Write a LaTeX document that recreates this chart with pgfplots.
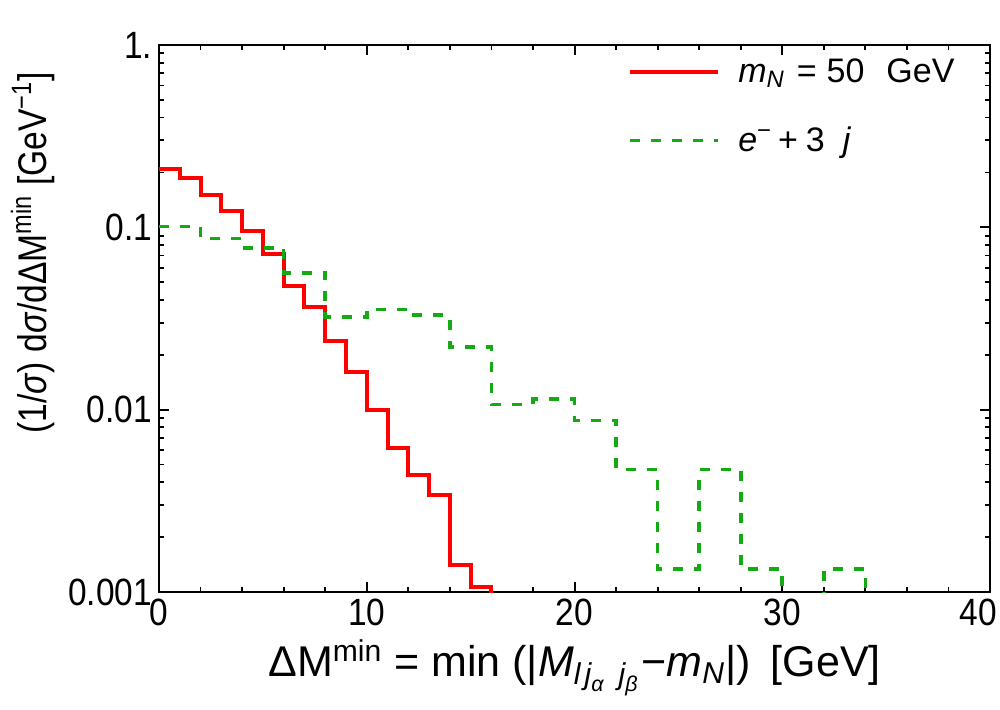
\documentclass[border=0pt]{standalone}
\usepackage{amsmath}
\usepackage{fontspec}
\setmainfont{Liberation Sans}
\newfontfamily\tickfont[FakeStretch=0.88]{Liberation Sans}
\newfontfamily\ylabfont[FakeStretch=0.84]{Liberation Sans}
\usepackage{pgfplots}
\pgfplotsset{compat=1.18}
\definecolor{mgreen}{RGB}{20,170,20}
\begin{document}
\begin{tikzpicture}
\begin{axis}[
  at={(0,0)}, anchor=south west,
  scale only axis, width=415.5pt, height=273.5pt,
  xmin=0, xmax=40, ymin=0.001, ymax=1, ymode=log,
  xtick={0,10,20,30,40}, minor x tick num=4,
  xticklabels={0,10,20,30,{\hspace*{-12pt}40}},
  ytick={0.001,0.01,0.1,1}, yticklabels={0.001,0.01,0.1,1.},
  tick pos=both, tick align=inside,
  major tick length=5pt, minor tick length=2.5pt,
  every tick/.style={black, line width=1pt},
  every minor tick/.style={black, line width=0.9pt},
  axis line style={line width=1.2pt},
  /pgf/number format/assume math mode=true,
  ticklabel style={font=\tickfont\fontsize{19}{21}\selectfont},
  xlabel style={font=\fontsize{21.5}{24}\selectfont},
  ylabel style={font=\ylabfont\fontsize{20}{22}\selectfont, at={(ticklabel cs:0.62)}},
  xlabel={ΔM\textsuperscript{min} = min (|$\textit{M}_{\textit{l}\hspace{2pt}\textit{j}_{\textit{α}}\hspace{7pt}\textit{j}_{\textit{β}}}$\hspace{1pt}−\textit{m}$_{\textit{N}}$|)\hspace{10pt}[GeV]},
  ylabel={(1/\textit{σ}) d\textit{σ}/dΔM\textsuperscript{min} [GeV\textsuperscript{−1}]},
  legend cell align=left,
  legend style={draw=none, fill=none, at={(0.557,0.99)}, anchor=north west,
    font=\fontsize{17}{19}\selectfont, row sep=16.5pt},
  legend image code/.code={\draw[#1] (0pt,0pt) -- (44pt,0pt);},
]
\addplot[red, line width=2pt, const plot mark left] coordinates {
(0,0.209) (1,0.186) (2,0.150) (3,0.123) (4,0.0955) (5,0.0711) (6,0.0476) (7,0.0367)
(8,0.0238) (9,0.0161) (10,0.0100) (11,0.0062) (12,0.00436) (13,0.00339) (14,0.0014)
(15,0.00107) (16,0.00001)
};
\addlegendentry{\hspace{7pt}\textit{m}$_{\textit{N}}$\hspace{6pt}=\hspace{5pt}50\hspace{11pt}GeV}
\addplot[mgreen, line width=1.8pt, dash pattern=on 5pt off 5.5pt, const plot mark left] coordinates {
(0,0.101) (2,0.087) (4,0.0773) (6,0.0563) (8,0.0323) (10,0.0355) (12,0.033) (14,0.0221)
(16,0.0107) (18,0.01143) (20,0.00873) (22,0.0047) (24,0.00134) (26,0.0047) (28,0.00134)
(30,0.00001) (32,0.00134) (34,0.00001)
};
\addlegendentry{\hspace{7pt}\textit{e}\textsuperscript{−}\hspace{3pt}+\hspace{4pt}3\hspace{9pt}\textit{j}}
\end{axis}
\pgfresetboundingbox
\path[use as bounding box] (-79.5pt,-58.5pt) rectangle (420.5pt,296pt);
\end{tikzpicture}
\end{document}
